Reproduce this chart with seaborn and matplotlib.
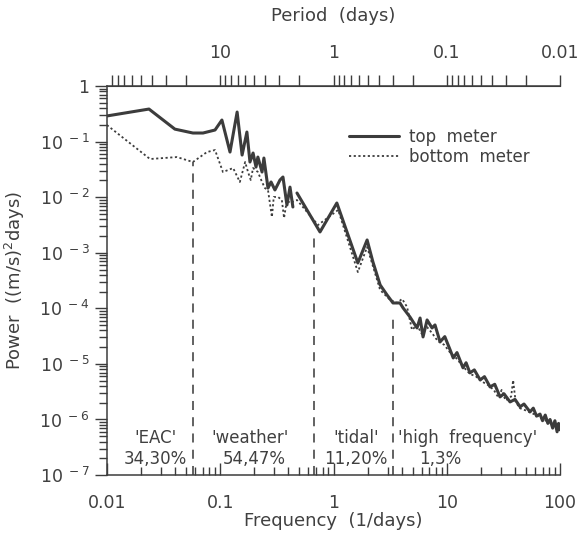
import numpy as np
import pandas as pd
import seaborn as sns
import matplotlib.pyplot as plt
from matplotlib.lines import Line2D
from matplotlib.ticker import FixedLocator, FixedFormatter, LogLocator, NullFormatter

# top meter spectrum (frequency in 1/days, power in (m/s)^2 days)
top_freq = [0.0100, 0.0235, 0.0398, 0.0574, 0.0705, 0.090, 0.1035, 0.122, 0.141, 0.156,
            0.172, 0.183, 0.195, 0.207, 0.215, 0.234, 0.243, 0.264, 0.281, 0.304,
            0.337, 0.358, 0.388, 0.413, 0.438,
            0.476, 0.76, 1.07, 1.64, 1.98, 2.23, 2.58, 2.97, 3.35, 3.86,
            4.11, 4.73, 5.46, 5.81, 6.17, 6.70, 7.41, 7.87, 8.72, 9.6,
            10.7, 11.4, 12.3, 13.9, 14.8, 16.0, 17.5, 19.7, 21.5, 24.1,
            26.5, 29.5, 32.0, 36.2, 40.0, 44.4, 48.0, 54.3, 58.0, 62.0,
            66.5, 70.0, 74.0, 78.0, 81.6, 86.0, 90.0, 94.1, 97.0, 100.0]
top_power = [0.29, 0.386, 0.168, 0.143, 0.143, 0.162, 0.245, 0.065, 0.341, 0.0574,
             0.149, 0.043, 0.0624, 0.0349, 0.0528, 0.0284, 0.0507, 0.0146, 0.0188, 0.0135,
             0.0204, 0.0231, 0.00724, 0.0152, 0.00667,
             0.0119, 0.00237, 0.00787, 0.000656, 0.0017, 6.8e-4, 2.64e-4, 1.74e-4, 1.25e-4, 1.25e-4,
             1.02e-4, 7.0e-5, 4.44e-5, 6.7e-5, 3.06e-5, 6.18e-5, 4.44e-5, 5.03e-5, 2.49e-5, 3.1e-5,
             1.79e-5, 1.28e-5, 1.6e-5, 8.5e-6, 1.05e-5, 6.9e-6, 7.8e-6, 5.15e-6, 5.9e-6, 3.86e-6,
             4.3e-6, 2.55e-6, 2.9e-6, 2.07e-6, 2.3e-6, 1.69e-6, 1.9e-6, 1.37e-6, 1.6e-6, 1.15e-6,
             1.25e-6, 9.5e-7, 1.2e-6, 8.5e-7, 1.0e-6, 7.0e-7, 9.5e-7, 6.0e-7, 8.5e-7, 6.5e-7]
top_segment = [0] * 25 + [1] * 50

# bottom meter spectrum
bot_freq = [0.0100, 0.024, 0.0415, 0.0574, 0.0764, 0.090, 0.1057, 0.130, 0.149, 0.166,
            0.176, 0.186, 0.195, 0.215, 0.234, 0.248, 0.264, 0.286, 0.297, 0.324,
            0.35, 0.366, 0.388, 0.413, 0.476, 0.73, 1.10, 1.64, 1.98, 2.58,
            3.16, 3.64, 4.03, 4.46, 4.93, 5.46, 6.0, 6.7, 7.4, 8.3,
            9.5, 10.7, 12.0, 13.9, 16.0, 18.0, 20.5, 23.0, 26.0, 28.5,
            30.5, 33.0, 35.5, 37.0, 38.5, 40.5, 44.0, 50.0, 56.0, 62.0,
            68.0, 75.0, 82.0, 88.0, 94.0, 100.0]
bot_power = [0.199, 0.0487, 0.0528, 0.043, 0.065, 0.0706, 0.0284, 0.0335, 0.0188, 0.043,
             0.0284, 0.0204, 0.0335, 0.0284, 0.0188, 0.0146, 0.0135, 0.0044, 0.0101, 0.0101,
             0.0089, 0.00423, 0.0089, 0.00787, 0.0089, 0.00316, 0.0059, 4.5e-4, 1.27e-3, 2.14e-4,
             1.42e-4, 1.25e-4, 1.48e-4, 1.06e-4, 4.1e-5, 5.0e-5, 3.5e-5, 4.6e-5, 3.6e-5, 2.6e-5,
             2.2e-5, 1.6e-5, 1.3e-5, 9.0e-6, 6.6e-6, 6.0e-6, 4.8e-6, 4.2e-6, 3.4e-6, 2.5e-6,
             3.4e-6, 2.2e-6, 2.4e-6, 2.6e-6, 5.1e-6, 2.1e-6, 1.6e-6, 1.45e-6, 1.3e-6, 1.2e-6,
             1.05e-6, 9.5e-7, 9.0e-7, 7.5e-7, 7.0e-7, 6.5e-7]

# band boundaries (dashed lines) and the power where each dashed line starts
band_edges = [0.0574, 0.67, 3.35]
band_tops = [0.043, 0.00227, 7.0e-5]

band_names = ["'EAC'", "'weather'", "'tidal'", "'high  frequency'"]
band_shares = ["34,30%", "54,47%", "11,20%", "1,3%"]

y_ticks = [1e-7, 1e-6, 1e-5, 1e-4, 1e-3, 1e-2, 1e-1, 1]
y_labels = ['10$^{\\ -7}$', '10$^{\\ -6}$', '10$^{\\ -5}$', '10$^{\\ -4}$',
            '10$^{\\ -3}$', '10$^{\\ -2}$', '10$^{\\ -1}$', '1']
x_ticks = [0.01, 0.1, 1, 10, 100]
x_labels = ['0.01', '0.1', '1', '10', '100']
period_ticks = [10, 1, 0.1, 0.01]
period_labels = ['10', '1', '0.1', '0.01']

top_df = pd.DataFrame({'freq': top_freq, 'power': top_power, 'segment': top_segment})
bot_df = pd.DataFrame({'freq': bot_freq, 'power': bot_power})

sns.set_style('white')
plt.rcParams['font.family'] = ['DejaVu Sans']
ink = '#3c3c3c'
txt = '#404040'

fig = plt.figure(figsize=(5.78, 5.38), dpi=100)
ax = fig.add_axes([0.185, 0.117, 0.784, 0.723])
ax.set_xscale('log')
ax.set_yscale('log')

sns.lineplot(data=bot_df, x='freq', y='power', sort=False, estimator=None,
             color=ink, lw=1.3, linestyle=(0, (1.2, 1.4)), ax=ax)
sns.lineplot(data=top_df, x='freq', y='power', units='segment', sort=False,
             estimator=None, color=ink, lw=2.2, ax=ax)

ax.vlines(band_edges, 1e-7, band_tops, colors='#555555', linestyles=(0, (5, 4)), lw=1.3)

name_x = [0.0266, 0.183, 1.58, 3.72]
share_x = [0.0266, 0.20, 1.58, 8.7]
for i in range(4):
    ha = 'left' if i == 3 else 'center'
    ax.text(name_x[i], 4.7e-7, band_names[i], ha=ha, va='center', fontsize=12, color=txt)
    ax.text(share_x[i], 1.96e-7, band_shares[i], ha='center', va='center', fontsize=12, color=txt)

ax.set_xlim(0.01, 100)
ax.set_ylim(1e-7, 1)

ax.xaxis.set_major_locator(FixedLocator(x_ticks))
ax.xaxis.set_major_formatter(FixedFormatter(x_labels))
ax.xaxis.set_minor_locator(LogLocator(base=10, subs=np.arange(2, 10)))
ax.xaxis.set_minor_formatter(NullFormatter())
ax.yaxis.set_major_locator(FixedLocator(y_ticks))
ax.yaxis.set_major_formatter(FixedFormatter(y_labels))
ax.yaxis.set_minor_locator(LogLocator(base=10, subs=np.arange(2, 10)))
ax.yaxis.set_minor_formatter(NullFormatter())

ax.tick_params(axis='x', which='major', direction='in', length=9, width=1, colors=ink,
               labelsize=12.5, labelcolor=txt, pad=14, bottom=True)
ax.tick_params(axis='x', which='minor', direction='in', length=6, width=1, colors=ink, bottom=True)
ax.tick_params(axis='y', which='major', direction='out', length=9, width=1, colors=ink,
               labelsize=12.5, labelcolor=txt, left=True)
ax.tick_params(axis='y', which='minor', direction='out', length=6, width=1, colors=ink, left=True)

for side in ['left', 'bottom', 'top']:
    ax.spines[side].set_color(ink)
    ax.spines[side].set_linewidth(1.1)
ax.spines['right'].set_visible(False)

sec = ax.secondary_xaxis('top', functions=(lambda f: 1 / f, lambda p: 1 / p))
sec.xaxis.set_major_locator(FixedLocator(period_ticks))
sec.xaxis.set_major_formatter(FixedFormatter(period_labels))
sec.xaxis.set_minor_locator(LogLocator(base=10, subs=np.arange(2, 10)))
sec.xaxis.set_minor_formatter(NullFormatter())
sec.tick_params(which='major', direction='out', length=8, width=1, colors=ink,
                labelsize=12.5, labelcolor=txt, pad=9)
sec.tick_params(which='minor', direction='out', length=8, width=1, colors=ink)
sec.spines['top'].set_color(ink)
sec.set_xlabel('Period  (days)', fontsize=13, color=txt, labelpad=17)

ax.set_xlabel('Frequency  (1/days)', fontsize=13, color=txt, labelpad=0)
ax.set_ylabel('Power  ((m/s)$^2$days)', fontsize=13, color=txt, labelpad=9)

handles = [Line2D([], [], color=ink, lw=2.2),
           Line2D([], [], color=ink, lw=1.3, linestyle=(0, (1.2, 1.4)))]
ax.legend(handles, ['top  meter', 'bottom  meter'], loc='upper right',
          bbox_to_anchor=(0.965, 0.93), frameon=False, fontsize=12, handlelength=3.0,
          handletextpad=0.6, labelspacing=0.1, labelcolor=txt)

fig.savefig('out.png', dpi=100)
